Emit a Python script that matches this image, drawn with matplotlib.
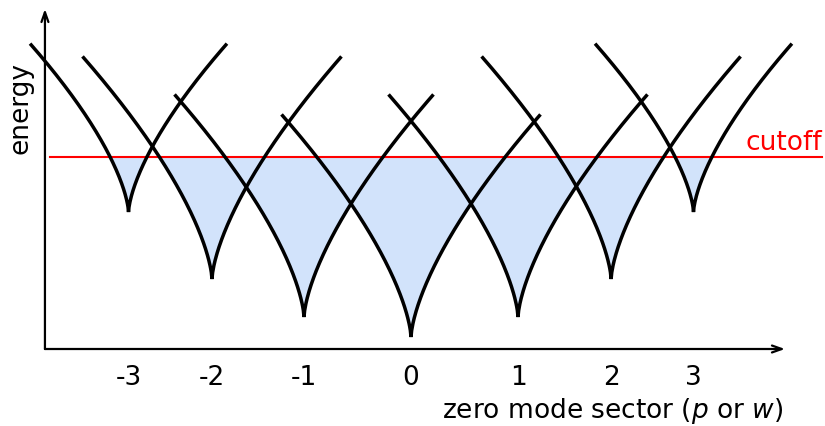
import numpy as np
import matplotlib
matplotlib.use("Agg")
import matplotlib.pyplot as plt

# winding / momentum sectors and where their branches bottom out
sectors = [-3, -2, -1, 0, 1, 2, 3]
sector_pos = [-2.64, -1.86, -1.0, 0.0, 1.0, 1.87, 2.64]
ground_energy = [1.37, 0.70, 0.32, 0.12, 0.32, 0.70, 1.37]
# steepness and horizontal reach of the two branches of each sector
branch_scale = [1.78, 1.96, 1.96, 1.96, 1.96, 1.96, 1.78]
branch_reach = [0.92, 1.21, 1.21, 1.21, 1.21, 1.21, 0.92]
cutoff = 1.92

fill_color = "#d2e3fb"
FS = 19


def sector_curve(x0, e0, scale, reach):
    # both branches as one path, left top -> cusp -> right top
    d = np.linspace(-reach, reach, 401)
    return x0 + d, e0 + scale * np.abs(d) ** (2 / 3)


fig = plt.figure(figsize=(8.25, 4.27), dpi=100)
ax = fig.add_axes([0, 0, 1, 1])
ax.set_xlim(-3.841, 3.869)
ax.set_ylim(-0.77, 3.50)
ax.axis("off")

# lower envelope of all branches, shaded up to the cutoff
xs = np.linspace(-3.4, 3.6, 4000)
env = np.full_like(xs, np.inf)
for x0, e0, s, r in zip(sector_pos, ground_energy, branch_scale, branch_reach):
    d = np.abs(xs - x0)
    e = np.where(d <= r, e0 + s * d ** (2 / 3), np.inf)
    env = np.minimum(env, e)
ax.fill_between(xs, env, cutoff, where=env < cutoff, interpolate=True,
                color=fill_color, lw=0, zorder=1)

for x0, e0, s, r in zip(sector_pos, ground_energy, branch_scale, branch_reach):
    cx, cy = sector_curve(x0, e0, s, r)
    ax.plot(cx, cy, color="black", lw=2.5, solid_capstyle="butt",
            solid_joinstyle="miter", zorder=3, clip_on=False)

ax.plot([-3.374, 3.841], [cutoff, cutoff], color="#ff0000", lw=1.5, zorder=2)
ax.text(3.84, 2.07, "cutoff", color="#ff0000", fontsize=FS, ha="right",
        va="center")

# axes drawn as arrows
arrow = dict(arrowstyle="->,head_length=0.7,head_width=0.25", lw=1.6,
             color="black", shrinkA=0, shrinkB=0)
ax.annotate("", xy=(3.495, 0), xytext=(-3.421, 0), arrowprops=arrow)
ax.annotate("", xy=(-3.421, 3.40), xytext=(-3.421, 0), arrowprops=arrow)

for n, x0 in zip(sectors, sector_pos):
    ax.text(x0, -0.28, str(n), fontsize=FS, ha="center", va="center")

ax.text(3.477, -0.61, "zero mode sector ($p$ or $w$)", fontsize=FS,
        ha="right", va="center")
ax.text(-3.654, 2.42, "energy", fontsize=FS, rotation=90, ha="center",
        va="center")

fig.savefig("out.png", dpi=100)
